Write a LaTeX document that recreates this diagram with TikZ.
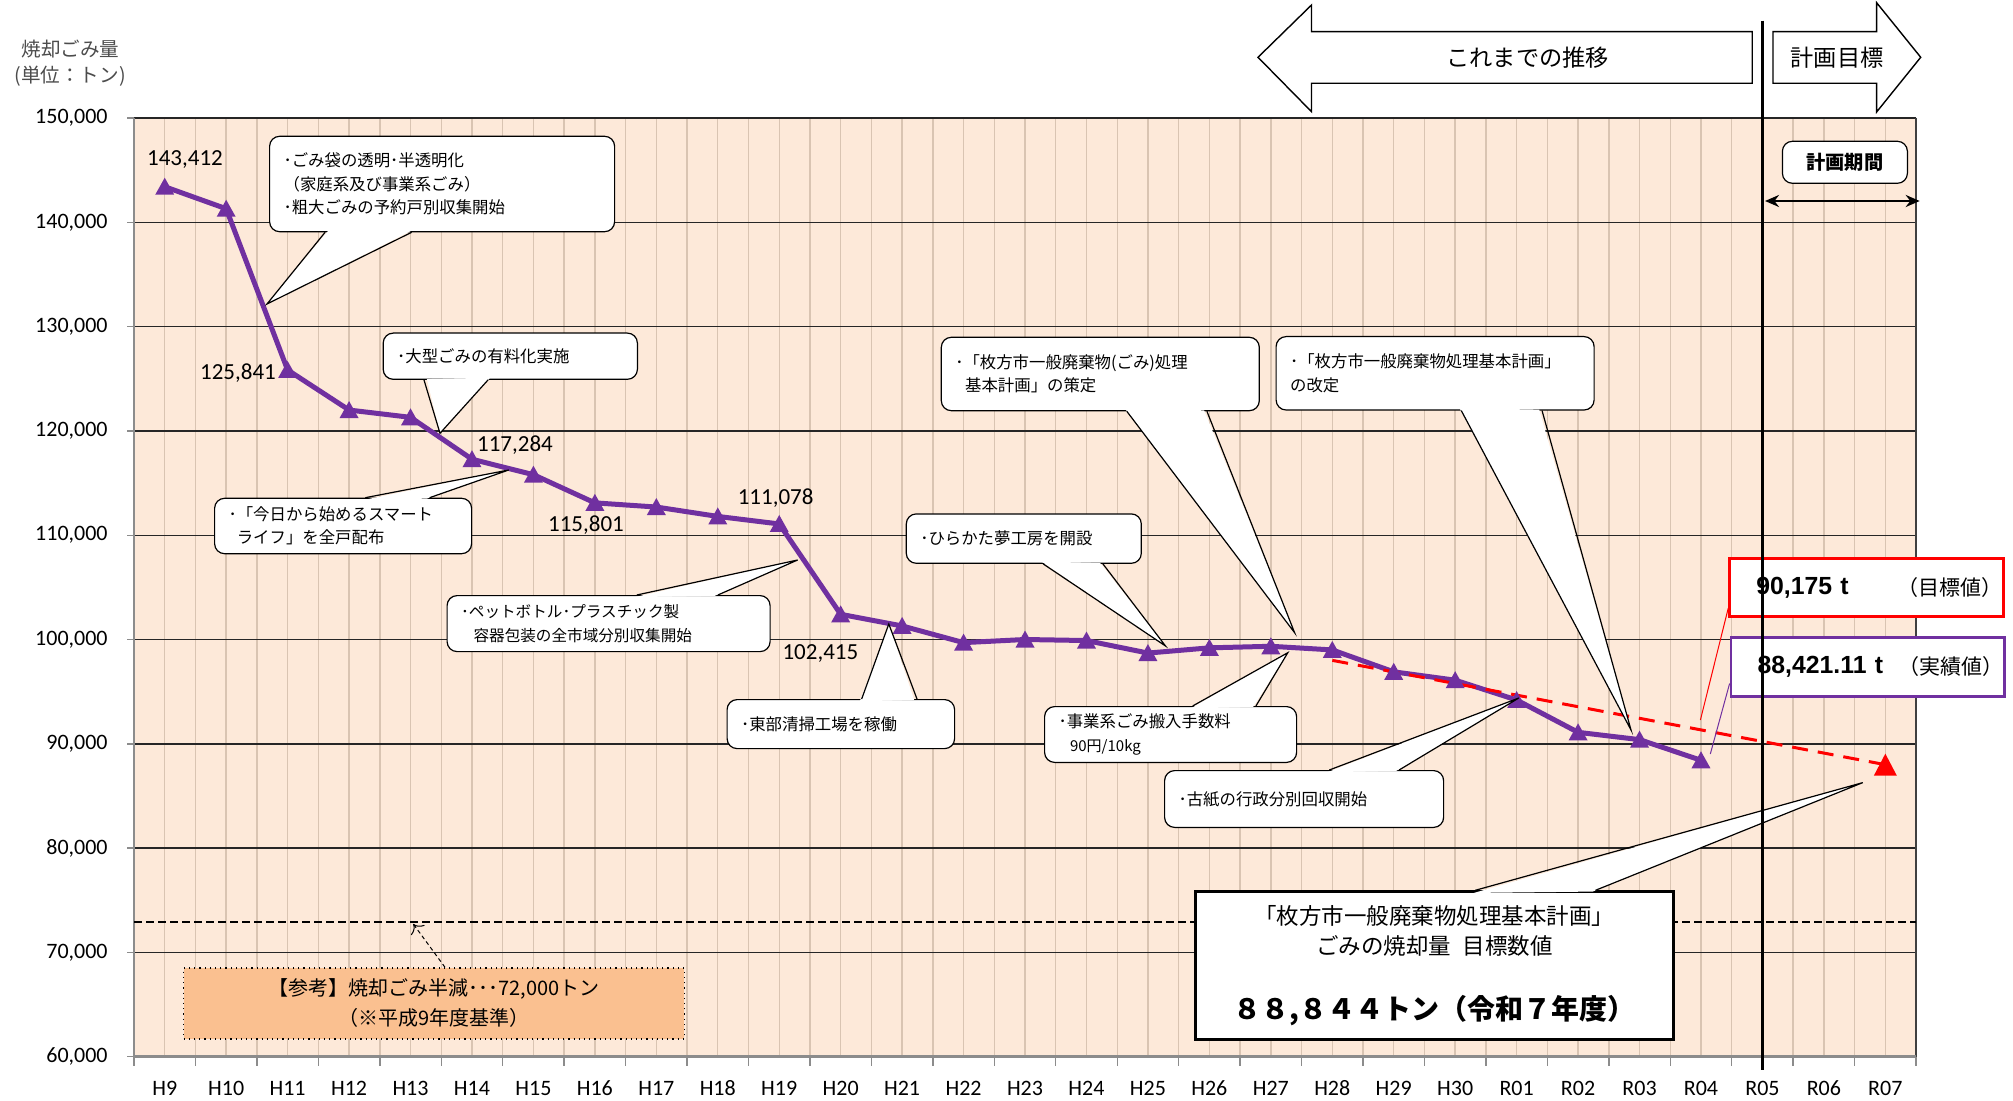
\documentclass[tikz,border=0pt]{standalone}
\usepackage{fontspec}
\setmainfont{Carlito}
\newfontfamily\jp{Noto Sans CJK JP}
\newfontfamily\arialf{Liberation Sans}
\usepackage{tikz}
\usetikzlibrary{shapes.geometric, positioning}
\usetikzlibrary{calc, arrows.meta}

\tikzset{
    callbox/.style={draw=black, line width=0.6pt, fill=white, rounded corners=5pt,
        align=left, inner xsep=7pt, inner ysep=0pt, anchor=north west,
        font=\jp\fontsize{8.2}{11.7}\selectfont},
    ptrline/.style={draw=black, line width=0.6pt},
    ylab/.style={anchor=east, inner sep=0pt, font=\fontsize{11}{13}\selectfont},
    xlab/.style={inner sep=0pt, font=\fontsize{11}{13}\selectfont},
    dlab/.style={inner sep=0pt, font=\fontsize{11.5}{13}\selectfont},
    valbox/.style={anchor=north west, fill=white, line width=1.4pt, minimum width=136.7pt,
        minimum height=29.2pt, text width=110.1pt, inner xsep=13.3pt, inner ysep=0pt,
        align=left, font=\arialf\bfseries\fontsize{12.4}{14}\selectfont},
    valname/.style={inner sep=0pt, font=\jp\fontsize{10.5}{12}\selectfont},
}

% выноска: клин от рамки к точке
\newcommand{\ptr}[5]{%
    \coordinate (#1a) at ($(#1.#2 west)!#3!(#1.#2 east)$);
    \coordinate (#1b) at ($(#1.#2 west)!#4!(#1.#2 east)$);
    \fill[white] ($(#1a)!1.5pt!(#1.center)$) -- (#5) -- ($(#1b)!1.5pt!(#1.center)$) -- cycle;
    \draw[ptrline] (#1a) -- (#5) -- (#1b);
}

\begin{document}
\begin{tikzpicture}[x=0.5pt, y=-0.5pt]
            % Цвета
            \definecolor{peach}{RGB}{253,233,217}
            \definecolor{minorc}{RGB}{217,196,178}
            \definecolor{datac}{RGB}{112,48,160}
            \definecolor{refc}{RGB}{250,192,144}
            \definecolor{redc}{RGB}{255,0,0}

            \useasboundingbox (0,0) rectangle (2013,1101);
            \fill[white] (0,0) rectangle (2013,1101);

            % Поле графика
            \fill[peach] (134,117.7) rectangle (1916,1056.7);
            \foreach \k in {1,...,57}
                \draw[minorc, line width=0.7pt] ({134+30.725*\k},117.7) -- ({134+30.725*\k},1056.7);
            \foreach \v in {70,80,...,150}
                \draw[black!85, line width=0.7pt] (134,{1056.7-10.43*(\v-60)}) -- (1916,{1056.7-10.43*(\v-60)});
            \draw[black!75, line width=0.6pt] (1916,117.7) -- (1916,1056.7);
            \draw[black!45, line width=0.7pt] (134,117.7) -- (134,1056.7);
            \draw[black!45, line width=1.5pt] (134,1056.7) -- (1916,1056.7);
            \foreach \v in {60,70,...,150}
                \draw[black!45, line width=0.7pt] (127,{1056.7-10.43*(\v-60)}) -- (134,{1056.7-10.43*(\v-60)});
            \foreach \k in {0,...,29}
                \draw[black!45, line width=0.7pt] ({134+61.45*\k},1056.7) -- ++(0,9);

            % Подписи осей
            \foreach \v in {60,70,...,150}
                \node[ylab] (y\v) at (108,{1056.7-10.43*(\v-60)}) {\v,000};
            \foreach \t [count=\i] in {H9,H10,H11,H12,H13,H14,H15,H16,H17,H18,H19,H20,H21,H22,H23,H24,H25,H26,H27,H28,H29,H30,R01,R02,R03,R04,R05,R06,R07}
                \node[xlab] (x\i) at ({134+61.45*(\i-0.5)},1088) {\t};
            \node[font=\jp\fontsize{9.8}{12}\selectfont, text=black!70] (ttl1) at (70.5,49.3) {焼却ごみ量};
            \node[font=\jp\fontsize{9.8}{12}\selectfont, text=black!70] (ttl2) at (70,76) {(単位：トン)};

            % Линия 72,000
            \coordinate (h1) at (134,922);
            \coordinate (h2) at (1916,922);
            \draw[black, line width=1pt, dash pattern=on 4pt off 2pt] (h1) -- (h2);

            % Данные
            \foreach \v [count=\i] in {143.412,141.3,125.841,122.0,121.3,117.284,115.801,113.1,112.7,111.8,111.078,102.415,101.3,99.7,100.0,99.9,98.7,99.2,99.35,99.0,96.9,96.1,94.2,91.1,90.4,88.421}
                \coordinate (p\i) at ({134+61.45*(\i-0.5)},{1056.7-10.43*(\v-60)});
            \draw[datac, line width=2.5pt, line join=round, line cap=round] (p1) \foreach \i in {2,...,26} {-- (p\i)};
            \coordinate (q1) at ({134+61.45*19.5},{1056.7-10.43*38.0});
            \coordinate (q2) at ({134+61.45*28.5},{1056.7-10.43*28.0});
            \draw[redc, line width=1.5pt, dash pattern=on 8pt off 5pt] (q1) -- (q2);
            \foreach \i in {1,...,26}
                \fill[datac] (p\i) ++(0,-9) -- ++(9.5,17) -- ++(-19,0) -- cycle;
            \fill[redc] (q2) ++(0,-11) -- ++(11.5,22) -- ++(-23,0) -- cycle;

            \node[dlab] (l1) at (185,159.3) {143,412};
            \node[dlab] (l3) at (238,372.7) {125,841};
            \node[dlab] (l6) at (515,445) {117,284};
            \node[dlab] (l7) at (586,525) {115,801};
            \node[dlab] (l11) at (775.6,497.7) {111,078};
            \node[dlab] (l12) at (820.4,654) {102,415};

            % Выноски
            \coordinate (t1) at (267,304);
            \coordinate (t2) at (440,433.3);
            \coordinate (t3) at (508.7,470);
            \coordinate (t4) at (797.6,560);
            \coordinate (t5) at (888.8,624);
            \coordinate (t6) at (1165.5,646);
            \coordinate (t7) at (1287.8,652.7);
            \coordinate (t8) at (1518.8,698);
            \coordinate (t9) at (1294.6,632.7);
            \coordinate (t10) at (1631,730);
            \coordinate (tg) at (1862.8,782.6);

            \node[callbox, text width=158.5pt, minimum height=47.7pt] (c1) at (269,135.7)
                {･ごみ袋の透明･半透明化\\（家庭系及び事業系ごみ）\\･粗大ごみの予約戸別収集開始};
            \ptr{c1}{south}{0.162}{0.412}{t1}
            \node[callbox, text width=113.1pt, minimum height=23.1pt] (c2) at (382.6,332.5) {･大型ごみの有料化実施};
            \ptr{c2}{south}{0.162}{0.413}{t2}
            \node[callbox, text width=114.5pt, minimum height=27.7pt] (c3) at (214,497.7)
                {･「今日から始めるスマート\\\hspace*{0.5em}ライフ」を全戸配布};
            \ptr{c3}{north}{0.586}{0.835}{t3}
            \node[callbox, text width=147.5pt, minimum height=28pt, font=\jp\fontsize{7.8}{11.7}\selectfont] (c4) at (446.5,595)
                {･ペットボトル･プラスチック製\\\hspace*{0.8em}容器包装の全市域分別収集開始};
            \ptr{c4}{north}{0.587}{0.837}{t4}
            \node[callbox, text width=99.75pt, minimum height=24.5pt] (c5) at (726.5,699) {･東部清掃工場を稼働};
            \ptr{c5}{north}{0.591}{0.833}{t5}
            \node[callbox, text width=103.5pt, minimum height=24.7pt] (c6) at (905.7,513.3) {･ひらかた夢工房を開設};
            \ptr{c6}{south}{0.582}{0.835}{t6}
            \node[callbox, text width=112pt, minimum height=27.9pt] (c7) at (1044,706)
                {･事業系ごみ搬入手数料\\\hspace*{0.7em}{\fontsize{7.5}{11.7}\selectfont 90円/10kg}};
            \ptr{c7}{north}{0.587}{0.837}{t7}
            \node[callbox, text width=125.5pt, minimum height=28.4pt] (c8) at (1164,770) {･古紙の行政分別回収開始};
            \ptr{c8}{north}{0.59}{0.839}{t8}
            \node[callbox, text width=145pt, minimum height=36.7pt] (c9) at (940.7,336.7)
                {･「枚方市一般廃棄物(ごみ)処理\\\hspace*{0.6em}基本計画」の策定};
            \ptr{c9}{south}{0.583}{0.834}{t9}
            \node[callbox, text width=145pt, minimum height=36.7pt] (c10) at (1275.5,336)
                {･「枚方市一般廃棄物処理基本計画」\\の改定};
            \ptr{c10}{south}{0.582}{0.835}{t10}

            % Целевое значение
            \node[draw=black, line width=1.5pt, fill=white, minimum width=238.9pt, minimum height=74pt,
                inner sep=0pt, anchor=north west, align=center,
                font=\jp\fontsize{11.25}{15.15}\selectfont] (goal) at (1194,890.3)
                {「枚方市一般廃棄物処理基本計画」\\ごみの焼却量\hspace{0.5em}目標数値\\[17.35pt]{\fontsize{14}{15.15}\selectfont\bfseries ８８,８４４トン（令和７年度）}};
            \ptr{goal}{north}{0.585}{0.835}{tg}

            % Справка
            \node[draw=black, dotted, line width=0.6pt, fill=refc, minimum width=250.4pt, minimum height=35.5pt,
                inner sep=0pt, anchor=north west, align=center,
                font=\jp\fontsize{10}{15}\selectfont] (ref) at (183,967.3)
                {【参考】焼却ごみ半減･･･72,000トン\\（※平成9年度基準）};
            \coordinate (half) at (413.3,924);
            \draw[black, line width=0.5pt, dash pattern=on 2pt off 1.5pt, -{To[length=4pt]}] ($(ref.north)+(11,0)$) -- (half);

            % Значения
            \node[valbox, draw=redc] (tgt) at (1728.3,556.7) {90,175 t};
            \node[valname, left=1pt of tgt.east] (tgtn) {（目標値）};
            \node[valbox, draw=datac] (act) at (1729.6,636.3) {88,421.11 t};
            \node[valname, left=1pt of act.east] (actn) {（実績値）};
            \coordinate (te) at (1700.4,720);
            \coordinate (ae) at (1710.3,754);
            \draw[redc, line width=0.5pt] ($(tgt.south west)+(0,-10)$) -- (te);
            \draw[datac, line width=0.5pt] ($(act.south west)+(0,-14)$) -- (ae);

            % Стрелки сверху
            \draw[line width=0.7pt, fill=white] (1258,57.3) -- (1311.5,5) -- (1311.5,31.7) -- (1752.2,31.7)
                -- (1752.2,83.3) -- (1311.5,83.3) -- (1311.5,111.7) -- cycle;
            \node[font=\jp\fontsize{11.6}{13}\selectfont] (past) at (1527.7,57.3) {これまでの推移};
            \draw[line width=0.7pt, fill=white] (1773,31.7) -- (1876.6,31.7) -- (1876.6,2.7) -- (1920.7,57.3)
                -- (1876.6,112) -- (1876.6,83.3) -- (1773,83.3) -- cycle;
            \node[font=\jp\fontsize{11.6}{13}\selectfont] (plan) at (1837,57.3) {計画目標};

            % Период плана
            \coordinate (r5top) at (1762,20.7);
            \coordinate (r5bot) at (1762,1069.8);
            \draw[black, line width=1.5pt] (r5top) -- (r5bot);
            \node[draw, line width=0.6pt, fill=white, rounded corners=5pt, minimum width=62.5pt, minimum height=21pt,
                inner sep=0pt, anchor=north west, font=\jp\fontsize{9.6}{11}\selectfont\bfseries] (per) at (1781.8,140.7) {計画期間};
            \coordinate (pl) at (1765,201);
            \coordinate (pr) at (1919.7,201);
            \draw[line width=1.2pt, {Stealth[length=7pt,width=6pt]}-{Stealth[length=7pt,width=6pt]}] (pl) -- (pr);
\end{tikzpicture}
\end{document}
